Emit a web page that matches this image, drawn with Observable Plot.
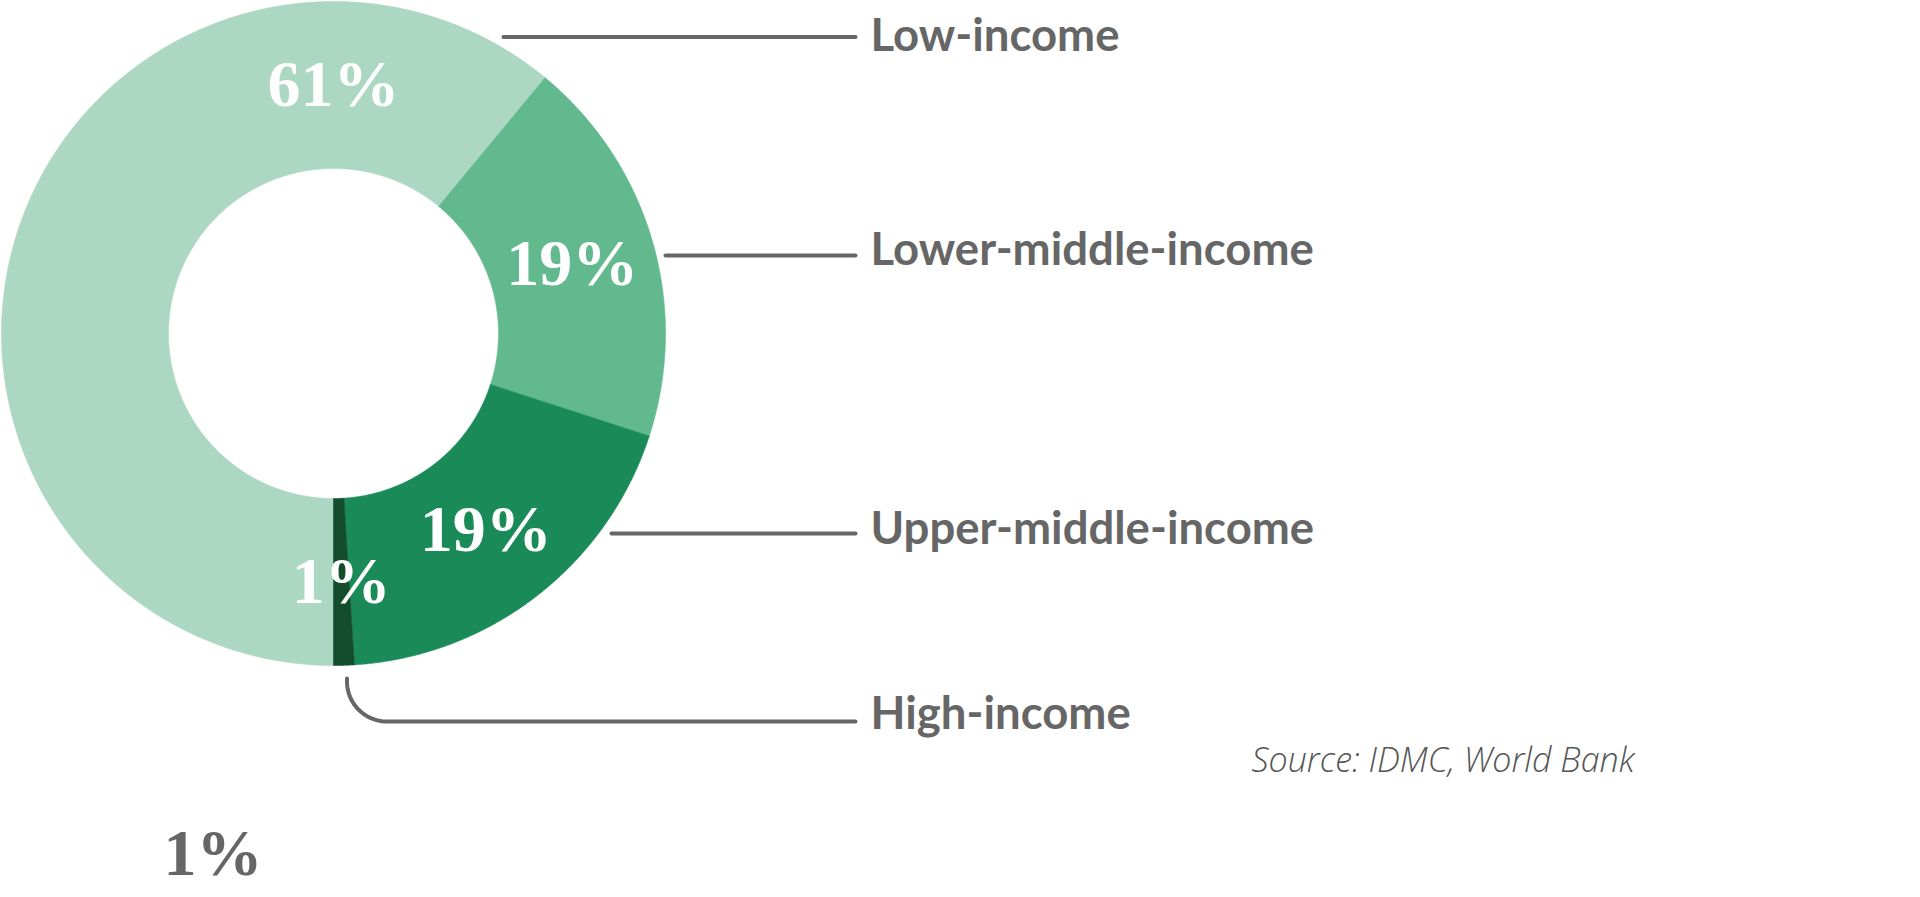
<!DOCTYPE html>
<html>
<head>
<meta charset="utf-8">
<script src="https://cdn.jsdelivr.net/npm/d3@7"></script>
<script src="https://cdn.jsdelivr.net/npm/@observablehq/plot@0.6"></script>
<style>
  html, body { margin: 0; padding: 0; background: #ffffff; }
  #chart svg { display: block; }
</style>
</head>
<body>
<div id="chart"></div>
<script>
// ---- data ----
const categories = ["Low-income", "Lower-middle-income", "Upper-middle-income", "High-income"];
const shares = [61, 19, 19, 1];
const colors = ["#acd7c3", "#61b98d", "#1b8a59", "#134d2d"];
const sourceText = "Source: IDMC, World Bank";

// ---- layout (pixels) ----
const W = 1920, H = 897;
const CX = 333, CY = 333, R = 332, RIN = 165;
const ux = p => (p - CX) / R;          // pixel -> donut units
const uy = p => (p - CY) / R;
const rIn = RIN / R;

// pie angles (0 at 12 o'clock, clockwise), starting at 6 o'clock
const pie = d3.pie().sort(null).startAngle(-Math.PI).endAngle(Math.PI);
const arcs = pie(shares).map((a, i) => ({...a, cat: categories[i], share: shares[i]}));

// polygon outline of each ring slice
const pts = [];
for (const a of arcs) {
  const n = Math.max(4, Math.ceil((a.endAngle - a.startAngle) / 0.004));
  const ring = [];
  for (let k = 0; k <= n; k++) {
    const t = a.startAngle + (a.endAngle - a.startAngle) * k / n;
    ring.push({cat: a.cat, x: Math.sin(t), y: -Math.cos(t)});
  }
  for (let k = n; k >= 0; k--) {
    const t = a.startAngle + (a.endAngle - a.startAngle) * k / n;
    ring.push({cat: a.cat, x: rIn * Math.sin(t), y: -rIn * Math.cos(t)});
  }
  ring.push({...ring[0]});
  pts.push(...ring);
}

// in-slice percentage labels at the ring's mid radius (largest slice label sits at 12 o'clock)
const rMid = (1 + rIn) / 2;
const sliceLabels = arcs.map((a, i) => {
  const t = i === 0 ? 0 : (a.startAngle + a.endAngle) / 2;
  return {text: a.share + "%", x: rMid * Math.sin(t), y: -rMid * Math.cos(t)};
});

// category labels and leader lines
const labelFS = 45.5;
const labelX = 870;
const labelBase = [50, 264, 543, 728];
const leaderY = [36.5, 255, 533, 721];
const leaderX1 = [503, 665, 611, null];
const leaderX2 = 855;
const catLabels = categories.map((c, i) => ({text: c, x: ux(labelX), y: uy(labelBase[i] - 0.32 * labelFS)}));

const leaders = [];
categories.forEach((c, i) => {
  if (leaderX1[i] != null) {
    leaders.push({cat: c, x: ux(leaderX1[i]), y: uy(leaderY[i])});
    leaders.push({cat: c, x: ux(leaderX2), y: uy(leaderY[i])});
  } else {
    // hooked connector from the bottom of the small slice
    const sx = 346.5, sy = 678, rad = leaderY[i] - 681;
    leaders.push({cat: c, x: ux(sx), y: uy(sy)});
    for (let k = 0; k <= 24; k++) {
      const t = Math.PI - (Math.PI / 2) * k / 24;
      leaders.push({cat: c, x: ux(sx + rad + rad * Math.cos(t)), y: uy(681 + rad * Math.sin(t))});
    }
    leaders.push({cat: c, x: ux(leaderX2), y: uy(leaderY[i])});
  }
});

const serif = "'Liberation Serif', 'DejaVu Serif', serif";
const sans = "Lato, 'Open Sans', sans-serif";
const srcFS = 34;
const bigFS = 66;

const chart = Plot.plot({
  width: W,
  height: H,
  margin: 0,
  x: {domain: [-1, 1], range: [CX - R, CX + R], axis: null},
  y: {domain: [-1, 1], range: [CY - R, CY + R], axis: null},
  color: {domain: categories, range: colors},
  style: {background: "#ffffff", overflow: "visible"},
  marks: [
    Plot.line(pts, {x: "x", y: "y", z: "cat", fill: "cat", stroke: "cat", strokeWidth: 0.6, curve: "linear"}),
    Plot.text(sliceLabels, {x: "x", y: "y", text: "text", fill: "#ffffff", fontSize: bigFS, fontWeight: "bold",
      fontFamily: serif, textAnchor: "middle", lineAnchor: "middle"}),
    Plot.line(leaders, {x: "x", y: "y", z: "cat", stroke: "#666666", strokeWidth: 4, curve: "linear"}),
    Plot.text(catLabels, {x: "x", y: "y", text: "text", fill: "#666666", fontSize: labelFS, fontWeight: "bold",
      fontFamily: sans, textAnchor: "start", lineAnchor: "middle"}),
    Plot.text([sourceText], {x: ux(1251), y: uy(771 - 0.32 * srcFS), text: d => d, fill: "#555555", fontSize: srcFS,
      fontStyle: "italic", fontWeight: 300, fontFamily: "'Open Sans', Lato, sans-serif", textAnchor: "start", lineAnchor: "middle"}),
    Plot.text([shares[3] + "%"], {x: ux(163), y: uy(874 - 0.32 * bigFS), text: d => d, fill: "#666666", fontSize: bigFS,
      fontWeight: "bold", fontFamily: serif, textAnchor: "start", lineAnchor: "middle"})
  ]
});
document.getElementById("chart").appendChild(chart);
</script>
</body>
</html>
